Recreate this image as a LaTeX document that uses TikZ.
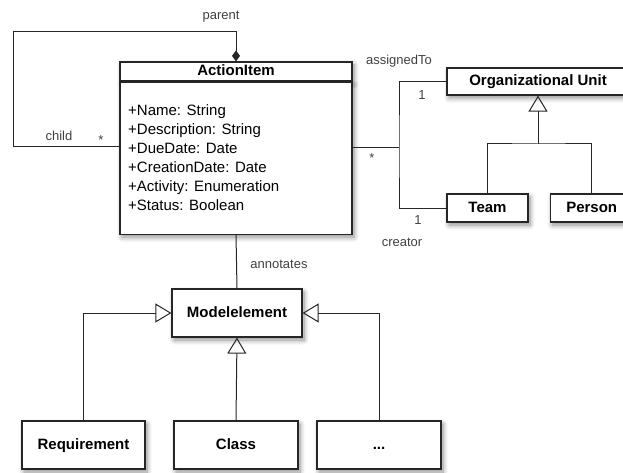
\documentclass[tikz,border=0pt]{standalone}
\usepackage{fontspec}
\setmainfont{Liberation Sans}
\usetikzlibrary{arrows.meta,positioning,shadows.blur}

\begin{document}
\begin{tikzpicture}[x=1pt,y=-1pt,
  cls/.style={rectangle, draw=black!85, fill=white, line width=1.2pt, inner sep=0pt, text height=11pt, text depth=3pt, font=\fontsize{15}{18}\selectfont\bfseries, blur shadow={shadow xshift=2pt, shadow yshift=-3pt, shadow blur radius=5pt, shadow blur steps=8, shadow opacity=45}},
  attrs/.style={align=left, inner sep=0pt, font=\fontsize{15}{19}\selectfont},
  role/.style={inner sep=0pt, text=black!75, font=\fontsize{13}{15}\selectfont},
  link/.style={draw=black!85, line width=1pt},
  inherit/.style={link, -{Triangle[open, length=16pt, width=19pt, line width=1pt]}},
  owner/.style={link, -{Diamond[length=11pt, width=8pt]}}]
                \clip (0,0) rectangle (623,473);
                % ActionItem class: name compartment and attributes
                \node[cls, minimum width=232pt, minimum height=19pt] (actionhead) at (236,71.5) {ActionItem};
                \node[cls, minimum width=232pt, minimum height=152pt, below=0pt of actionhead] (actionbody) {};
                \node[attrs, anchor=north west] (actionattrs) at (128,104.5) {+Name: String\\+Description: String\\+DueDate: Date\\+CreationDate: Date\\+Activity: Enumeration\\+Status: Boolean};
                % organisation side
                \node[cls, minimum width=182pt, minimum height=27pt] (orgunit) at (538,81.5) {Organizational Unit};
                \node[cls, minimum width=81pt, minimum height=28pt] (team) at (487.5,208) {Team};
                \node[cls, minimum width=83pt, minimum height=28pt, right=21pt of team] (person) {Person};
                % model elements
                \node[cls, minimum width=130pt, minimum height=48pt] (model) at (237,313) {Modelelement};
                \node[cls, minimum width=123pt, minimum height=48pt] (req) at (83.5,445) {Requirement};
                \node[cls, minimum width=124pt, minimum height=48pt] (class) at (236,445) {Class};
                \node[cls, minimum width=124pt, minimum height=48pt] (more) at (379,445) {...};
                % bend points
                \coordinate (loopa) at (13,32);
                \coordinate (loopb) at (13,147);
                \coordinate (assoc) at (399,148);
                \coordinate (orgfork) at (538,144);
                % parent / child
                \draw[owner] (actionbody.west |- loopb) -- (loopb) -- (loopa) -- (actionhead.north |- loopa) -- (actionhead.north);
                % assignedTo / creator
                \draw[link] (actionbody.east |- assoc) -- (assoc);
                \draw[link] (orgunit.west) -| (assoc) |- (team.west);
                \draw[inherit] (orgfork) -- (orgunit.south);
                \draw[link] (team.north) |- (orgfork) -| (person.north);
                % annotates
                \draw[link] (actionbody.south) -- (model.north);
                \draw[inherit] (req.north) |- (model.west);
                \draw[inherit] (class.north) -- (model.south);
                \draw[inherit] (more.north) |- (model.east);
                % roles and multiplicities
                \node[role] (parentlbl) at (221,17) {parent};
                \node[role] (childlbl) at (59,136) {child};
                \node[role, anchor=base] (childmult) at (101,144.5) {*};
                \node[role] (assignlbl) at (399,61) {assignedTo};
                \node[role] (assignmult) at (422,95) {1};
                \node[role, anchor=base] (itemmult) at (372,162.5) {*};
                \node[role] (creatormult) at (418,220) {1};
                \node[role] (creatorlbl) at (402,242) {creator};
                \node[role] (annotlbl) at (279,264) {annotates};
\end{tikzpicture}
\end{document}
